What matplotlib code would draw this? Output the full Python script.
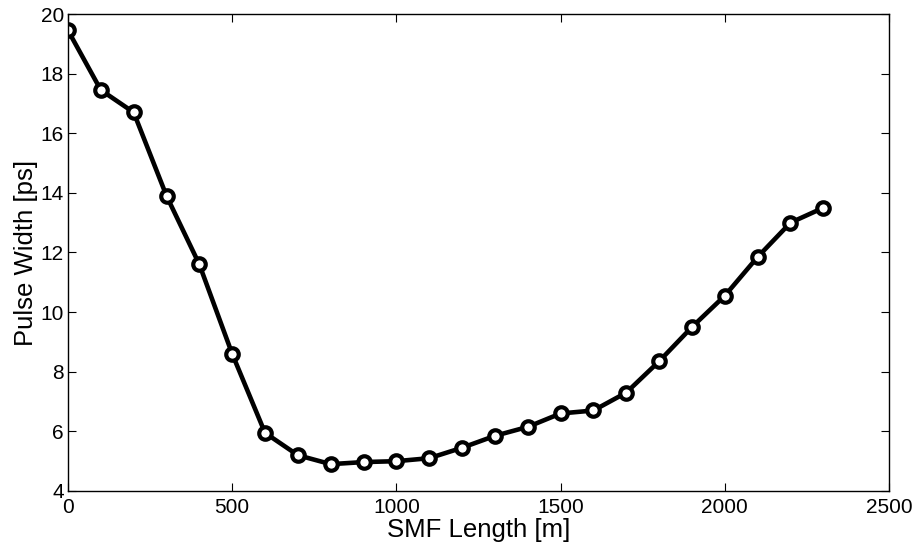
import numpy as np
from matplotlib import pyplot as plt

plt.rcParams['font.family'] = ['Liberation Sans', 'DejaVu Sans']

# SMF length [m] vs pulse width [ps]
smf_length = [0, 100, 200, 300, 400, 500, 600, 700, 800, 900, 1000, 1100,
              1200, 1300, 1400, 1500, 1600, 1700, 1800, 1900, 2000, 2100, 2200, 2300]
pulse_width = [19.45, 17.45, 16.7, 13.9, 11.6, 8.6, 5.95, 5.2, 4.9, 4.97, 5.0, 5.1,
               5.45, 5.85, 6.15, 6.6, 6.7, 7.3, 8.35, 9.5, 10.55, 11.85, 13.0, 13.5]

fig = plt.figure(figsize=(9.15, 5.47), dpi=100)
ax = fig.add_axes([0.0743, 0.1024, 0.8973, 0.872])

ax.plot(smf_length, pulse_width, color='black', linewidth=3.3, marker='o',
        markersize=9, markerfacecolor='white', markeredgecolor='black',
        markeredgewidth=3)

ax.set_xlim(0, 2500)
ax.set_ylim(4, 20)
ax.set_xticks(np.arange(0, 2501, 500))
ax.set_yticks(np.arange(4, 21, 2))
ax.tick_params(direction='in', top=True, right=True, labelsize=15, length=6)
ax.tick_params(axis='x', pad=5)
ax.tick_params(axis='y', pad=3)
for s in ax.spines.values():
    s.set_linewidth(1)

ax.set_xlabel('SMF Length [m]', fontsize=18.5, labelpad=1)
ax.set_ylabel('Pulse Width [ps]', fontsize=18.5, labelpad=2)

fig.savefig('out.png', dpi=100)
